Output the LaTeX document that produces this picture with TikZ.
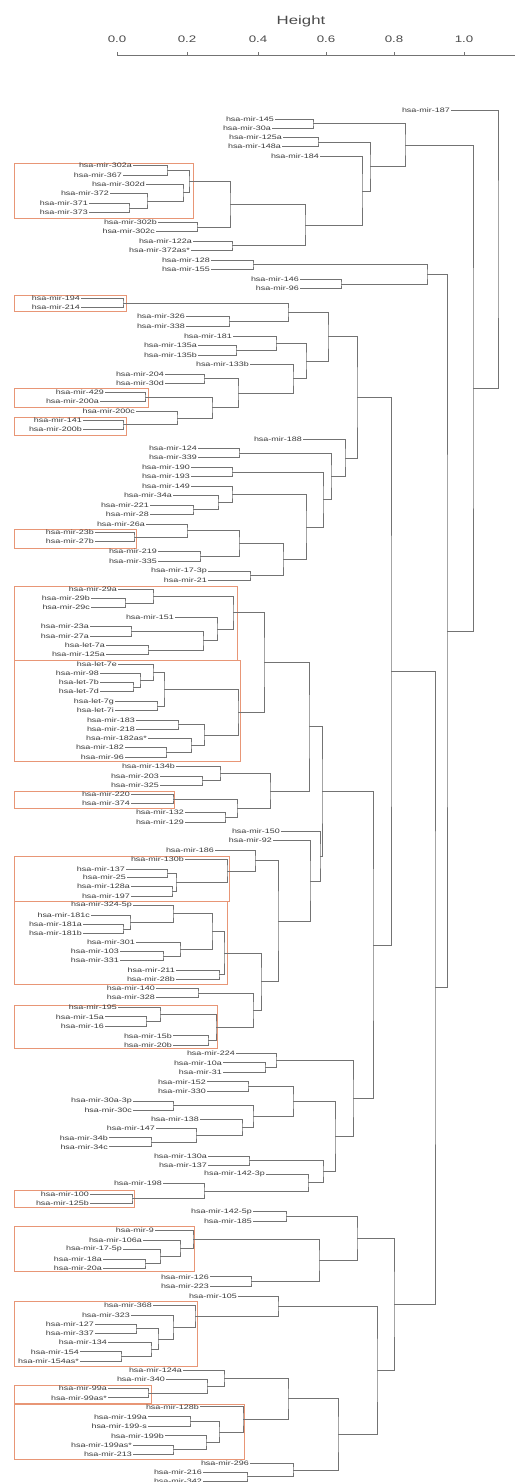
\documentclass[tikz,border=0pt]{standalone}
\usepackage{fontspec}
\newfontfamily\dendfont[FakeStretch=1.4]{Liberation Sans}
\definecolor{boxred}{RGB}{232,150,118}
\definecolor{branchgray}{RGB}{115,115,115}
\tikzset{
  leaf/.style={anchor=east, inner xsep=1pt, inner ysep=0.5pt, text=black!78, font=\dendfont\fontsize{6.4pt}{6.6pt}\selectfont},
  axislabel/.style={text=black!70, font=\dendfont\fontsize{9.5pt}{11pt}\selectfont},
  branch/.style={draw=branchgray, line width=0.5pt},
  clusterbox/.style={draw=boxred, line width=0.6pt}
}
\begin{document}
\begin{tikzpicture}[x=1pt, y=-1pt]
  \useasboundingbox (0,0) rectangle (515,1482);
  % axis
  \node[axislabel, font=\dendfont\fontsize{12pt}{14pt}\selectfont] (htitle) at (301,21) {Height};
  \draw[branchgray, line width=0.5pt] (117,55) -- (515,55);
  \node[axislabel] (t00) at (117,39.5) {0.0}; \draw[branchgray] (117,55) -- (117,52.5);
  \node[axislabel] (t02) at (187,39.5) {0.2}; \draw[branchgray] (187,55) -- (187,52.5);
  \node[axislabel] (t04) at (258,39.5) {0.4}; \draw[branchgray] (258,55) -- (258,52.5);
  \node[axislabel] (t06) at (326,39.5) {0.6}; \draw[branchgray] (326,55) -- (326,52.5);
  \node[axislabel] (t08) at (394,39.5) {0.8}; \draw[branchgray] (394,55) -- (394,52.5);
  \node[axislabel] (t10) at (464,39.5) {1.0}; \draw[branchgray] (464,55) -- (464,52.5);
  % cluster boxes
  \draw[clusterbox] (14,163) rectangle (193,218); \draw[clusterbox] (14,295) rectangle (126,311.7);
  \draw[clusterbox] (14,388) rectangle (148,407); \draw[clusterbox] (14,417) rectangle (126,435);
  \draw[clusterbox] (14,529) rectangle (136,548); \draw[clusterbox] (14,586) rectangle (237,660);
  \draw[clusterbox] (14,660) rectangle (240,761); \draw[clusterbox] (14,791) rectangle (174,808);
  \draw[clusterbox] (14,856.7) rectangle (229,901.7); \draw[clusterbox] (14,901.7) rectangle (227,984);
  \draw[clusterbox] (14,1005) rectangle (217,1048); \draw[clusterbox] (14,1190) rectangle (134,1207);
  \draw[clusterbox] (14,1226.7) rectangle (194,1271.7); \draw[clusterbox] (14,1301.7) rectangle (197,1366.7);
  \draw[clusterbox] (14,1385) rectangle (151,1403); \draw[clusterbox] (14,1404) rectangle (244,1459);
  % leaves
  \node[leaf] (m187) at (451,110) {hsa-mir-187};
  \node[leaf] (m145) at (275,119) {hsa-mir-145}; \node[leaf] (m30a) at (272,128.3) {hsa-mir-30a};
  \node[leaf] (m125a) at (283,137.7) {hsa-mir-125a}; \node[leaf] (m148a) at (282,146.7) {hsa-mir-148a};
  \node[leaf] (m184) at (320,156.7) {hsa-mir-184};
  \node[leaf] (m302a) at (133,165.7) {hsa-mir-302a}; \node[leaf] (m367) at (123,175) {hsa-mir-367};
  \node[leaf] (m302d) at (146,184.3) {hsa-mir-302d}; \node[leaf] (m372) at (110,193.7) {hsa-mir-372};
  \node[leaf] (m371) at (89,203.3) {hsa-mir-371}; \node[leaf] (m373) at (89,212.3) {hsa-mir-373};
  \node[leaf] (m302b) at (158,222.3) {hsa-mir-302b}; \node[leaf] (m302c) at (156,231.7) {hsa-mir-302c};
  \node[leaf] (m122a) at (193,241) {hsa-mir-122a}; \node[leaf] (m372as) at (191,250.3) {hsa-mir-372as*};
  \node[leaf] (m128) at (211,260) {hsa-mir-128}; \node[leaf] (m155) at (211,269.3) {hsa-mir-155};
  \node[leaf] (m146) at (300,279.3) {hsa-mir-146}; \node[leaf] (m96) at (300,288.3) {hsa-mir-96};
  \node[leaf] (m194) at (81,298.3) {hsa-mir-194}; \node[leaf] (m214) at (81,307.3) {hsa-mir-214};
  \node[leaf] (m326) at (186,316.7) {hsa-mir-326}; \node[leaf] (m338) at (186,326) {hsa-mir-338};
  \node[leaf] (m181) at (233,336) {hsa-mir-181};
  \node[leaf] (m135a) at (198,345.7) {hsa-mir-135a}; \node[leaf] (m135b) at (198,355) {hsa-mir-135b};
  \node[leaf] (m133b) at (250,364) {hsa-mir-133b};
  \node[leaf] (m204) at (165,374) {hsa-mir-204}; \node[leaf] (m30d) at (165,383.3) {hsa-mir-30d};
  \node[leaf] (m429) at (105,392.3) {hsa-mir-429}; \node[leaf] (m200a) at (100,401.7) {hsa-mir-200a};
  \node[leaf] (m200c) at (136,411) {hsa-mir-200c};
  \node[leaf] (m141) at (83,420) {hsa-mir-141}; \node[leaf] (m200b) at (83,429.3) {hsa-mir-200b};
  \node[leaf] (m188) at (303,439.3) {hsa-mir-188};
  \node[leaf] (m124) at (198,448.3) {hsa-mir-124}; \node[leaf] (m339) at (198,457.7) {hsa-mir-339};
  \node[leaf] (m190) at (191,467.7) {hsa-mir-190}; \node[leaf] (m193) at (191,476.7) {hsa-mir-193};
  \node[leaf] (m149) at (191,486.7) {hsa-mir-149}; \node[leaf] (m34a) at (173,495.7) {hsa-mir-34a};
  \node[leaf] (m221) at (150,505) {hsa-mir-221}; \node[leaf] (m28) at (150,514.3) {hsa-mir-28};
  \node[leaf] (m26a) at (146,524) {hsa-mir-26a};
  \node[leaf] (m23b) at (95,532.7) {hsa-mir-23b}; \node[leaf] (m27b) at (95,541.7) {hsa-mir-27b};
  \node[leaf] (m219) at (158,551.7) {hsa-mir-219}; \node[leaf] (m335) at (158,561) {hsa-mir-335};
  \node[leaf] (m173p) at (208,571) {hsa-mir-17-3p}; \node[leaf] (m21) at (208,580) {hsa-mir-21};
  \node[leaf] (m29a) at (118,589.3) {hsa-mir-29a};
  \node[leaf] (m29b) at (91,598.3) {hsa-mir-29b}; \node[leaf] (m29c) at (91,607.3) {hsa-mir-29c};
  \node[leaf] (m151) at (175,617.3) {hsa-mir-151};
  \node[leaf] (m23a) at (90,626.7) {hsa-mir-23a}; \node[leaf] (m27a) at (90,636) {hsa-mir-27a};
  \node[leaf] (let7a) at (106,645.7) {hsa-let-7a}; \node[leaf] (m125ax) at (106,654.3) {hsa-mir-125a};
  \node[leaf] (let7e) at (118,664) {hsa-let-7e}; \node[leaf] (m98) at (100,673.3) {hsa-mir-98};
  \node[leaf] (let7b) at (100,682.7) {hsa-let-7b}; \node[leaf] (let7d) at (100,691.7) {hsa-let-7d};
  \node[leaf] (let7g) at (115,701.7) {hsa-let-7g}; \node[leaf] (let7i) at (115,710.7) {hsa-let-7i};
  \node[leaf] (m183) at (136,720) {hsa-mir-183}; \node[leaf] (m218) at (136,729) {hsa-mir-218};
  \node[leaf] (m182as) at (148,738.3) {hsa-mir-182as*};
  \node[leaf] (m182) at (125,747.7) {hsa-mir-182}; \node[leaf] (m96b) at (125,757.3) {hsa-mir-96};
  \node[leaf] (m134b) at (176,766.7) {hsa-mir-134b};
  \node[leaf] (m203) at (160,776) {hsa-mir-203}; \node[leaf] (m325) at (160,785) {hsa-mir-325};
  \node[leaf] (m220) at (131,794.3) {hsa-mir-220}; \node[leaf] (m374) at (131,803.3) {hsa-mir-374};
  \node[leaf] (m132) at (185,812.7) {hsa-mir-132}; \node[leaf] (m129) at (185,822.3) {hsa-mir-129};
  \node[leaf] (m150) at (281,831) {hsa-mir-150}; \node[leaf] (m92) at (273,840.7) {hsa-mir-92};
  \node[leaf] (m186) at (215,850) {hsa-mir-186}; \node[leaf] (m130b) at (185,859.3) {hsa-mir-130b};
  \node[leaf] (m137) at (126,869) {hsa-mir-137}; \node[leaf] (m25) at (127,877.3) {hsa-mir-25};
  \node[leaf] (m128a) at (131,886.7) {hsa-mir-128a}; \node[leaf] (m197) at (131,896) {hsa-mir-197};
  \node[leaf] (m3245p) at (133,905) {hsa-mir-324-5p}; \node[leaf] (m181c) at (91,915) {hsa-mir-181c};
  \node[leaf] (m181a) at (83,924.3) {hsa-mir-181a}; \node[leaf] (m181b) at (83,933.3) {hsa-mir-181b};
  \node[leaf] (m301) at (136,942.7) {hsa-mir-301};
  \node[leaf] (m103) at (120,951.7) {hsa-mir-103}; \node[leaf] (m331) at (120,960.7) {hsa-mir-331};
  \node[leaf] (m211) at (176,970) {hsa-mir-211}; \node[leaf] (m28b) at (176,979.3) {hsa-mir-28b};
  \node[leaf] (m140) at (156,988.3) {hsa-mir-140}; \node[leaf] (m328) at (156,997.7) {hsa-mir-328};
  \node[leaf] (m195) at (118,1007.3) {hsa-mir-195};
  \node[leaf] (m15a) at (105,1016.7) {hsa-mir-15a}; \node[leaf] (m16) at (105,1026) {hsa-mir-16};
  \node[leaf] (m15b) at (173,1035.7) {hsa-mir-15b}; \node[leaf] (m20b) at (173,1045) {hsa-mir-20b};
  \node[leaf] (m224) at (236,1053.3) {hsa-mir-224};
  \node[leaf] (m10a) at (223,1062.7) {hsa-mir-10a}; \node[leaf] (m31) at (223,1072.3) {hsa-mir-31};
  \node[leaf] (m152) at (207,1081.7) {hsa-mir-152}; \node[leaf] (m330) at (207,1091) {hsa-mir-330};
  \node[leaf] (m30a3p) at (133,1101) {hsa-mir-30a-3p}; \node[leaf] (m30c) at (133,1110) {hsa-mir-30c};
  \node[leaf] (m138) at (200,1119.3) {hsa-mir-138}; \node[leaf] (m147) at (156,1128.3) {hsa-mir-147};
  \node[leaf] (m34b) at (109,1137.7) {hsa-mir-34b}; \node[leaf] (m34c) at (109,1146.7) {hsa-mir-34c};
  \node[leaf] (m130a) at (208,1156) {hsa-mir-130a}; \node[leaf] (m137b) at (208,1165) {hsa-mir-137};
  \node[leaf] (m1423p) at (266,1174.3) {hsa-mir-142-3p}; \node[leaf] (m198) at (163,1183.3) {hsa-mir-198};
  \node[leaf] (m100) at (90,1194) {hsa-mir-100}; \node[leaf] (m125b) at (90,1203.3) {hsa-mir-125b};
  \node[leaf] (m1425p) at (253,1211.7) {hsa-mir-142-5p}; \node[leaf] (m185) at (253,1221) {hsa-mir-185};
  \node[leaf] (m9) at (155,1230) {hsa-mir-9}; \node[leaf] (m106a) at (143,1240) {hsa-mir-106a};
  \node[leaf] (m175p) at (123,1249.3) {hsa-mir-17-5p};
  \node[leaf] (m18a) at (103,1259) {hsa-mir-18a}; \node[leaf] (m20a) at (103,1268.3) {hsa-mir-20a};
  \node[leaf] (m126) at (210,1276.7) {hsa-mir-126}; \node[leaf] (m223) at (210,1286) {hsa-mir-223};
  \node[leaf] (m105) at (238,1296) {hsa-mir-105};
  \node[leaf] (m368) at (153,1305) {hsa-mir-368}; \node[leaf] (m323) at (131,1315) {hsa-mir-323};
  \node[leaf] (m127) at (95,1324) {hsa-mir-127}; \node[leaf] (m337) at (95,1333.3) {hsa-mir-337};
  \node[leaf] (m134) at (108,1342.3) {hsa-mir-134};
  \node[leaf] (m154) at (80,1351.7) {hsa-mir-154}; \node[leaf] (m154as) at (80,1361) {hsa-mir-154as*};
  \node[leaf] (m124a) at (183,1370) {hsa-mir-124a}; \node[leaf] (m340) at (166,1379) {hsa-mir-340};
  \node[leaf] (m99a) at (108,1388.3) {hsa-mir-99a}; \node[leaf] (m99as) at (108,1397.7) {hsa-mir-99as*};
  \node[leaf] (m128b) at (200,1406.7) {hsa-mir-128b};
  \node[leaf] (m199a) at (148,1416.7) {hsa-mir-199a}; \node[leaf] (m199s) at (148,1426) {hsa-mir-199-s};
  \node[leaf] (m199b) at (165,1435.7) {hsa-mir-199b};
  \node[leaf] (m199as) at (133,1445) {hsa-mir-199as*}; \node[leaf] (m213) at (133,1454.3) {hsa-mir-213};
  \node[leaf] (m296) at (250,1463.3) {hsa-mir-296};
  \node[leaf] (m216) at (203,1472.3) {hsa-mir-216}; \node[leaf] (m342) at (203,1481) {hsa-mir-342};
  % merges
  \coordinate (n1) at (313,123.7); \draw[branch] (m145.east) -| (n1) |- (m30a.east);
  \coordinate (n2) at (318,142.2); \draw[branch] (m125a.east) -| (n2) |- (m148a.east);
  \coordinate (a1) at (167,170.4); \draw[branch] (m302a.east) -| (a1) |- (m367.east);
  \coordinate (a2) at (129,207.8); \draw[branch] (m371.east) -| (a2) |- (m373.east);
  \coordinate (a3) at (147,200.8); \draw[branch] (m372.east) -| (a3) |- (a2);
  \coordinate (a4) at (183,192.5); \draw[branch] (m302d.east) -| (a4) |- (a3);
  \coordinate (a5) at (189,181.4); \draw[branch] (a1) -| (a5) |- (a4);
  \coordinate (n3) at (197,227); \draw[branch] (m302b.east) -| (n3) |- (m302c.east);
  \coordinate (n4) at (230,204.2); \draw[branch] (a5) -| (n4) |- (n3);
  \coordinate (n5) at (232,245.7); \draw[branch] (m122a.east) -| (n5) |- (m372as.east);
  \coordinate (n6) at (305,225); \draw[branch] (n4) -| (n6) |- (n5);
  \coordinate (n7) at (362,190.8); \draw[branch] (m184.east) -| (n7) |- (n6);
  \coordinate (n8) at (370,166.5); \draw[branch] (n2) -| (n8) |- (n7);
  \coordinate (n9) at (405,145.1); \draw[branch] (n1) -| (n9) |- (n8);
  \coordinate (b1) at (253,264.7); \draw[branch] (m128.east) -| (b1) |- (m155.east);
  \coordinate (b2) at (341,283.8); \draw[branch] (m146.east) -| (b2) |- (m96.east);
  \coordinate (b3) at (427,274.2); \draw[branch] (b1) -| (b3) |- (b2);
  \coordinate (c1) at (123,302.8); \draw[branch] (m194.east) -| (c1) |- (m214.east);
  \coordinate (c2) at (229,321.4); \draw[branch] (m326.east) -| (c2) |- (m338.east);
  \coordinate (c3) at (288,312.1); \draw[branch] (c1) -| (c3) |- (c2);
  \coordinate (c4) at (236,350.4); \draw[branch] (m135a.east) -| (c4) |- (m135b.east);
  \coordinate (c5) at (276,343.2); \draw[branch] (m181.east) -| (c5) |- (c4);
  \coordinate (c6) at (204,378.7); \draw[branch] (m204.east) -| (c6) |- (m30d.east);
  \coordinate (c7) at (145,397); \draw[branch] (m429.east) -| (c7) |- (m200a.east);
  \coordinate (c8) at (123,424.7); \draw[branch] (m141.east) -| (c8) |- (m200b.east);
  \coordinate (c9) at (177,417.8); \draw[branch] (m200c.east) -| (c9) |- (c8);
  \coordinate (c10) at (212,407.4); \draw[branch] (c7) -| (c10) |- (c9);
  \coordinate (c11) at (238,393); \draw[branch] (c6) -| (c11) |- (c10);
  \coordinate (c12) at (293,378.5); \draw[branch] (m133b.east) -| (c12) |- (c11);
  \coordinate (c13) at (306,360.9); \draw[branch] (c5) -| (c13) |- (c12);
  \coordinate (c14) at (328,336.5); \draw[branch] (c3) -| (c14) |- (c13);
  \coordinate (e1) at (239,453); \draw[branch] (m124.east) -| (e1) |- (m339.east);
  \coordinate (e2) at (232,472.2); \draw[branch] (m190.east) -| (e2) |- (m193.east);
  \coordinate (e3) at (193,509.7); \draw[branch] (m221.east) -| (e3) |- (m28.east);
  \coordinate (e4) at (218,502.7); \draw[branch] (m34a.east) -| (e4) |- (e3);
  \coordinate (e5) at (232,494.7); \draw[branch] (m149.east) -| (e5) |- (e4);
  \coordinate (h1) at (134,537.2); \draw[branch] (m23b.east) -| (h1) |- (m27b.east);
  \coordinate (h2) at (187,530.6); \draw[branch] (m26a.east) -| (h2) |- (h1);
  \coordinate (h3) at (200,556.4); \draw[branch] (m219.east) -| (h3) |- (m335.east);
  \coordinate (h4) at (239,543.5); \draw[branch] (h2) -| (h4) |- (h3);
  \coordinate (h5) at (250,575.5); \draw[branch] (m173p.east) -| (h5) |- (m21.east);
  \coordinate (h6) at (283,559.5); \draw[branch] (h4) -| (h6) |- (h5);
  \coordinate (g1) at (306,527.1); \draw[branch] (e5) -| (g1) |- (h6);
  \coordinate (f1) at (323,499.7); \draw[branch] (e2) -| (f1) |- (g1);
  \coordinate (d0) at (331,476.3); \draw[branch] (e1) -| (d0) |- (f1);
  \coordinate (d1) at (345,457.8); \draw[branch] (m188.east) -| (d1) |- (d0);
  \coordinate (c15) at (357,397.2); \draw[branch] (c14) -| (c15) |- (d1);
  \coordinate (i1) at (125,602.8); \draw[branch] (m29b.east) -| (i1) |- (m29c.east);
  \coordinate (i2) at (153,596.1); \draw[branch] (m29a.east) -| (i2) |- (i1);
  \coordinate (i3) at (131,631.4); \draw[branch] (m23a.east) -| (i3) |- (m27a.east);
  \coordinate (i4) at (148,650); \draw[branch] (let7a.east) -| (i4) |- (m125ax.east);
  \coordinate (i5) at (203,640.7); \draw[branch] (i3) -| (i5) |- (i4);
  \coordinate (i6) at (217,629); \draw[branch] (m151.east) -| (i6) |- (i5);
  \coordinate (i7) at (233,612.5); \draw[branch] (i2) -| (i7) |- (i6);
  \coordinate (j1) at (133,687.2); \draw[branch] (let7b.east) -| (j1) |- (let7d.east);
  \coordinate (j2) at (140,680.3); \draw[branch] (m98.east) -| (j2) |- (j1);
  \coordinate (j3) at (153,672.1); \draw[branch] (let7e.east) -| (j3) |- (j2);
  \coordinate (j4) at (157,706.2); \draw[branch] (let7g.east) -| (j4) |- (let7i.east);
  \coordinate (j5) at (164,689.2); \draw[branch] (j3) -| (j5) |- (j4);
  \coordinate (j6) at (178,724.5); \draw[branch] (m183.east) -| (j6) |- (m218.east);
  \coordinate (j7) at (166,752.5); \draw[branch] (m182.east) -| (j7) |- (m96b.east);
  \coordinate (j8) at (191,745.4); \draw[branch] (m182as.east) -| (j8) |- (j7);
  \coordinate (j9) at (204,735); \draw[branch] (j6) -| (j9) |- (j8);
  \coordinate (j10) at (238,712.1); \draw[branch] (j5) -| (j10) |- (j9);
  \coordinate (k1) at (264,662.3); \draw[branch] (i7) -| (k1) |- (j10);
  \coordinate (l1) at (202,780.5); \draw[branch] (m203.east) -| (l1) |- (m325.east);
  \coordinate (l2) at (220,773.6); \draw[branch] (m134b.east) -| (l2) |- (l1);
  \coordinate (l3) at (173,798.8); \draw[branch] (m220.east) -| (l3) |- (m374.east);
  \coordinate (l4) at (225,817.5); \draw[branch] (m132.east) -| (l4) |- (m129.east);
  \coordinate (l5) at (237,808.2); \draw[branch] (l3) -| (l5) |- (l4);
  \coordinate (l6) at (270,790.9); \draw[branch] (l2) -| (l6) |- (l5);
  \coordinate (k2) at (309,726.6); \draw[branch] (k1) -| (k2) |- (l6);
  \coordinate (o1) at (167,873.2); \draw[branch] (m137.east) -| (o1) |- (m25.east);
  \coordinate (o2) at (172,891.4); \draw[branch] (m128a.east) -| (o2) |- (m197.east);
  \coordinate (o3) at (176,882.3); \draw[branch] (o1) -| (o3) |- (o2);
  \coordinate (o4) at (227,870.8); \draw[branch] (m130b.east) -| (o4) |- (o3);
  \coordinate (o5) at (255,860.4); \draw[branch] (m186.east) -| (o5) |- (o4);
  \coordinate (q1) at (123,928.8); \draw[branch] (m181a.east) -| (q1) |- (m181b.east);
  \coordinate (q2) at (130,921.9); \draw[branch] (m181c.east) -| (q2) |- (q1);
  \coordinate (q3) at (173,913.5); \draw[branch] (m3245p.east) -| (q3) |- (q2);
  \coordinate (q4) at (163,956.2); \draw[branch] (m103.east) -| (q4) |- (m331.east);
  \coordinate (q5) at (180,949.5); \draw[branch] (m301.east) -| (q5) |- (q4);
  \coordinate (q6) at (212,931.5); \draw[branch] (q3) -| (q6) |- (q5);
  \coordinate (q7) at (219,974.7); \draw[branch] (m211.east) -| (q7) |- (m28b.east);
  \coordinate (q8) at (224,953.1); \draw[branch] (q6) -| (q8) |- (q7);
  \coordinate (q9) at (198,993); \draw[branch] (m140.east) -| (q9) |- (m328.east);
  \coordinate (t1) at (146,1021.4); \draw[branch] (m15a.east) -| (t1) |- (m16.east);
  \coordinate (t2) at (160,1014.4); \draw[branch] (m195.east) -| (t2) |- (t1);
  \coordinate (t3) at (208,1040.4); \draw[branch] (m15b.east) -| (t3) |- (m20b.east);
  \coordinate (t4) at (216,1027.4); \draw[branch] (t2) -| (t4) |- (t3);
  \coordinate (t5) at (253,1010.2); \draw[branch] (q9) -| (t5) |- (t4);
  \coordinate (t6) at (261,981.7); \draw[branch] (q8) -| (t6) |- (t5);
  \coordinate (p1) at (278,921); \draw[branch] (o5) -| (p1) |- (t6);
  \coordinate (p2) at (310,880.9); \draw[branch] (m92.east) -| (p2) |- (p1);
  \coordinate (p3) at (320,856); \draw[branch] (m150.east) -| (p3) |- (p2);
  \coordinate (s1) at (322,791.3); \draw[branch] (k2) -| (s1) |- (p3);
  \coordinate (u1) at (265,1067.5); \draw[branch] (m10a.east) -| (u1) |- (m31.east);
  \coordinate (u2) at (276,1060.4); \draw[branch] (m224.east) -| (u2) |- (u1);
  \coordinate (u3) at (248,1086.4); \draw[branch] (m152.east) -| (u3) |- (m330.east);
  \coordinate (u4) at (173,1105.5); \draw[branch] (m30a3p.east) -| (u4) |- (m30c.east);
  \coordinate (u5) at (151,1142.2); \draw[branch] (m34b.east) -| (u5) |- (m34c.east);
  \coordinate (u6) at (196,1135.3); \draw[branch] (m147.east) -| (u6) |- (u5);
  \coordinate (u7) at (242,1127.3); \draw[branch] (m138.east) -| (u7) |- (u6);
  \coordinate (u8) at (253,1116.4); \draw[branch] (u4) -| (u8) |- (u7);
  \coordinate (u9) at (293,1101.4); \draw[branch] (u3) -| (u9) |- (u8);
  \coordinate (v1) at (249,1160.5); \draw[branch] (m130a.east) -| (v1) |- (m137b.east);
  \coordinate (w1) at (132,1198.7); \draw[branch] (m100.east) -| (w1) |- (m125b.east);
  \coordinate (w2) at (204,1191); \draw[branch] (m198.east) -| (w2) |- (w1);
  \coordinate (w3) at (308,1182.7); \draw[branch] (m1423p.east) -| (w3) |- (w2);
  \coordinate (w4) at (323,1171.6); \draw[branch] (v1) -| (w4) |- (w3);
  \coordinate (w5) at (335,1136.5); \draw[branch] (u9) -| (w5) |- (w4);
  \coordinate (w6) at (353,1098.5); \draw[branch] (u2) -| (w6) |- (w5);
  \coordinate (r6) at (373,944.9); \draw[branch] (s1) -| (r6) |- (w6);
  \coordinate (r4) at (391,671); \draw[branch] (c15) -| (r4) |- (r6);
  \coordinate (x1) at (286,1216.4); \draw[branch] (m1425p.east) -| (x1) |- (m185.east);
  \coordinate (x2) at (145,1263.7); \draw[branch] (m18a.east) -| (x2) |- (m20a.east);
  \coordinate (x3) at (160,1256.5); \draw[branch] (m175p.east) -| (x3) |- (x2);
  \coordinate (x4) at (180,1248.3); \draw[branch] (m106a.east) -| (x4) |- (x3);
  \coordinate (x5) at (193,1239.2); \draw[branch] (m9.east) -| (x5) |- (x4);
  \coordinate (x6) at (251,1281.4); \draw[branch] (m126.east) -| (x6) |- (m223.east);
  \coordinate (x7) at (319,1260.3); \draw[branch] (x5) -| (x7) |- (x6);
  \coordinate (x8) at (357,1238.3); \draw[branch] (x1) -| (x8) |- (x7);
  \coordinate (y1) at (136,1328.7); \draw[branch] (m127.east) -| (y1) |- (m337.east);
  \coordinate (y2) at (121,1356.4); \draw[branch] (m154.east) -| (y2) |- (m154as.east);
  \coordinate (y3) at (151,1349.3); \draw[branch] (m134.east) -| (y3) |- (y2);
  \coordinate (y4) at (158,1339); \draw[branch] (y1) -| (y4) |- (y3);
  \coordinate (y5) at (173,1327); \draw[branch] (m323.east) -| (y5) |- (y4);
  \coordinate (y6) at (195,1316); \draw[branch] (m368.east) -| (y6) |- (y5);
  \coordinate (y7) at (278,1306); \draw[branch] (m105.east) -| (y7) |- (y6);
  \coordinate (z1) at (148,1393); \draw[branch] (m99a.east) -| (z1) |- (m99as.east);
  \coordinate (z2) at (207,1386); \draw[branch] (m340.east) -| (z2) |- (z1);
  \coordinate (z3) at (224,1378); \draw[branch] (m124a.east) -| (z3) |- (z2);
  \coordinate (aa1) at (190,1421.4); \draw[branch] (m199a.east) -| (aa1) |- (m199s.east);
  \coordinate (aa2) at (173,1449.7); \draw[branch] (m199as.east) -| (aa2) |- (m213.east);
  \coordinate (aa3) at (206,1442.7); \draw[branch] (m199b.east) -| (aa3) |- (aa2);
  \coordinate (aa4) at (219,1432); \draw[branch] (aa1) -| (aa4) |- (aa3);
  \coordinate (aa5) at (243,1419.4); \draw[branch] (m128b.east) -| (aa5) |- (aa4);
  \coordinate (aa6) at (288,1398.7); \draw[branch] (z3) -| (aa6) |- (aa5);
  \coordinate (ab1) at (247,1476.7); \draw[branch] (m216.east) -| (ab1) |- (m342.east);
  \coordinate (ab2) at (293,1470); \draw[branch] (m296.east) -| (ab2) |- (ab1);
  \coordinate (ab3) at (338,1434.4); \draw[branch] (aa6) -| (ab3) |- (ab2);
  \coordinate (ab4) at (377,1370.2); \draw[branch] (y7) -| (ab4) |- (ab3);
  \coordinate (r5) at (394,1304.3); \draw[branch] (x8) -| (r5) |- (ab4);
  \coordinate (r3) at (435,987.7); \draw[branch] (r4) -| (r3) |- (r5);
  \coordinate (r2) at (447,631); \draw[branch] (b3) -| (r2) |- (r3);
  \coordinate (r1) at (473,388); \draw[branch] (n9) -| (r1) |- (r2);
  \coordinate (root) at (498,249); \draw[branch] (m187.east) -| (root) |- (r1);
\end{tikzpicture}
\end{document}
